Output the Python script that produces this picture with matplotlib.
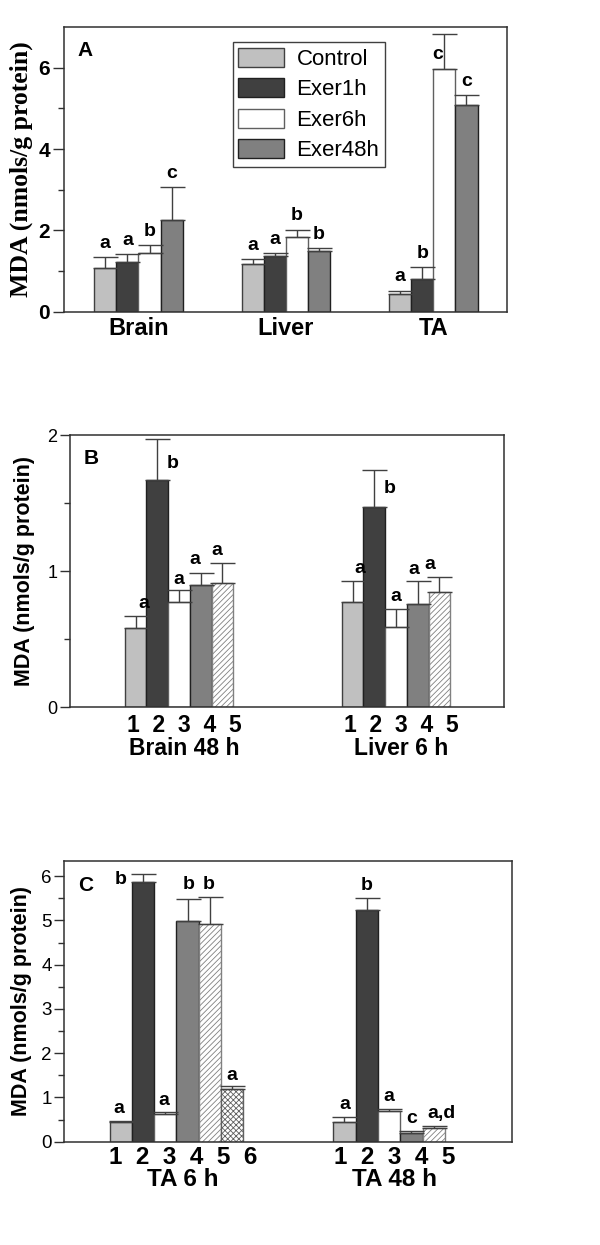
import matplotlib
matplotlib.use("Agg")
import matplotlib.pyplot as plt
import numpy as np
from matplotlib.ticker import MultipleLocator, FixedLocator

plt.rcParams['font.family'] = ['Liberation Sans', 'DejaVu Sans']
plt.rcParams['hatch.linewidth'] = 0.6

# ---------------- Data ----------------
# Panel A
a_groups = ["Brain", "Liver", "TA"]
a_series = ["Control", "Exer1h", "Exer6h", "Exer48h"]
a_control = [1.07, 1.17, 0.44]
a_exer1h = [1.22, 1.36, 0.80]
a_exer6h = [1.44, 1.83, 5.96]
a_exer48h = [2.26, 1.50, 5.09]
a_err_control = [0.27, 0.12, 0.08]
a_err_exer1h = [0.19, 0.08, 0.29]
a_err_exer6h = [0.19, 0.18, 0.88]
a_err_exer48h = [0.80, 0.06, 0.23]
a_letters_control = ["a", "a", "a"]
a_letters_exer1h = ["a", "a", "b"]
a_letters_exer6h = ["b", "b", "c"]
a_letters_exer48h = ["c", "b", "c"]

# Panel B
b_groups = ["Brain 48 h", "Liver 6 h"]
b_brain = [0.58, 1.67, 0.77, 0.90, 0.91]
b_brain_err = [0.09, 0.30, 0.09, 0.09, 0.15]
b_brain_letters = ["a", "b", "a", "a", "a"]
b_liver = [0.77, 1.47, 0.59, 0.76, 0.85]
b_liver_err = [0.16, 0.27, 0.13, 0.17, 0.11]
b_liver_letters = ["a", "b", "a", "a", "a"]

# Panel C
c_groups = ["TA 6 h", "TA 48 h"]
c_ta6 = [0.44, 5.87, 0.62, 4.98, 4.93, 1.20]
c_ta6_err = [0.03, 0.18, 0.04, 0.51, 0.59, 0.05]
c_ta6_letters = ["a", "b", "a", "b", "b", "a"]
c_ta48 = [0.45, 5.23, 0.69, 0.20, 0.30]
c_ta48_err = [0.11, 0.28, 0.04, 0.03, 0.05]
c_ta48_letters = ["a", "b", "a", "c", "a,d"]

# ---------------- Styles ----------------
FILL = ["#c0c0c0", "#404040", "#ffffff", "#808080", "#ffffff", "#ffffff"]
HATCH = [None, None, None, None, "//////", "xxxxxx"]
EDGE = ["#404040", "#202020", "#606060", "#202020", "#808080", "#606060"]
ERRC = "#404040"

fig = plt.figure(figsize=(6.0, 12.45), dpi=100)

def style_box(ax):
    for s in ax.spines.values():
        s.set_linewidth(1.1)
        s.set_color("#303030")
    ax.tick_params(axis='x', length=0)
    ax.tick_params(axis='y', which='major', length=7, width=1, direction='out', color="#303030")
    ax.tick_params(axis='y', which='minor', length=4, width=1, direction='out', color="#303030")

def draw_bar(ax, x, v, e, k, w):
    ax.bar(x, v, width=w, color=FILL[k], edgecolor=EDGE[k], linewidth=1.0,
           hatch=HATCH[k], zorder=2)
    ax.errorbar(x, v, yerr=[[0], [e]], fmt='none', ecolor=ERRC, elinewidth=1.0,
                capsize=9, capthick=1.0, zorder=3)

def letter(ax, x, top, txt, dx, dy):
    ax.annotate(txt, (x, top), xytext=(dx, dy), textcoords='offset pixels',
                ha='center', va='center', fontsize=14, fontweight='bold', zorder=4)

def group_labels(n, name):
    return "  ".join(str(i + 1) for i in range(n)) + "\n" + name

# ---------------- Panel A ----------------
axA = fig.add_axes([0.1067, 0.7496, 0.7383, 0.2287])
wA = 0.15
a_vals = [a_control, a_exer1h, a_exer6h, a_exer48h]
a_errs = [a_err_control, a_err_exer1h, a_err_exer6h, a_err_exer48h]
a_lets = [a_letters_control, a_letters_exer1h, a_letters_exer6h, a_letters_exer48h]
a_off = {(2, 2): (-7, -21)}
handles = []
for k in range(4):
    for g in range(3):
        x = g + (k - 1.5) * wA
        draw_bar(axA, x, a_vals[k][g], a_errs[k][g], k, wA)
        dx, dy = a_off.get((g, k), (0, 14))
        letter(axA, x, a_vals[k][g] + a_errs[k][g], a_lets[k][g], dx, dy)
    handles.append(plt.Rectangle((0, 0), 1, 1, facecolor=FILL[k], edgecolor=EDGE[k], linewidth=1.0))
axA.set_xlim(-0.505, 2.5)
axA.set_ylim(0, 7)
axA.set_xticks(range(3))
axA.set_xticklabels(a_groups, fontsize=17, fontweight='bold')
axA.yaxis.set_major_locator(FixedLocator([0, 2, 4, 6]))
axA.yaxis.set_minor_locator(FixedLocator([1, 3, 5]))
for t in axA.get_yticklabels():
    t.set_fontweight('bold'); t.set_fontsize(15)
style_box(axA)
axA.tick_params(axis='y', which='major', length=8, pad=2)
axA.tick_params(axis='x', pad=4)
axA.set_ylabel("MDA (nmols/g protein)", family=['Liberation Serif', 'DejaVu Serif'],
               fontweight='bold', fontsize=18.5)
axA.yaxis.set_label_coords(-0.07, 0.5)
axA.text(0.047, 0.919, "A", transform=axA.transAxes, ha='center', va='center',
         fontsize=15, fontweight='bold')
leg = axA.legend(handles, a_series, loc='upper left', bbox_to_anchor=(0.381, 0.947),
                 borderaxespad=0, fontsize=16, handlelength=2.07, handleheight=0.95,
                 handletextpad=0.55, labelspacing=0.37, borderpad=0.25,
                 fancybox=False, framealpha=1, edgecolor="#404040")
leg.get_frame().set_linewidth(1.0)

# ---------------- Panel B ----------------
axB = fig.add_axes([0.1167, 0.4319, 0.7238, 0.2187])
wB = 0.1
b_vals = [b_brain, b_liver]
b_errs = [b_brain_err, b_liver_err]
b_lets = [b_brain_letters, b_liver_letters]
b_offs = [[(8.5, 13), (15.5, -24), (0, 11), (-5.5, 12.7), (-6, 12.3)],
          [(7.7, 11.7), (15, -18.3), (0, 13), (-4, 11.3), (-10, 12)]]
for g in range(2):
    n = len(b_vals[g])
    for k in range(n):
        x = g + (k - (n - 1) / 2) * wB
        draw_bar(axB, x, b_vals[g][k], b_errs[g][k], k, wB)
        dx, dy = b_offs[g][k]
        letter(axB, x, b_vals[g][k] + b_errs[g][k], b_lets[g][k], dx, dy)
axB.set_xlim(-0.502, 1.499)
axB.set_ylim(0, 2)
axB.set_xticks([0.025, 1.025])
axB.set_xticklabels([group_labels(len(b_vals[g]), b_groups[g]) for g in range(2)],
                    fontsize=16.5, fontweight='bold', linespacing=1.02)
axB.yaxis.set_major_locator(MultipleLocator(1))
axB.yaxis.set_minor_locator(MultipleLocator(0.5))
for t in axB.get_yticklabels():
    t.set_fontsize(13)
style_box(axB)
axB.tick_params(axis='y', pad=2)
axB.tick_params(axis='x', pad=4.5)
axB.set_ylabel("MDA (nmols/g protein)", fontweight='bold', fontsize=15.5)
axB.yaxis.set_label_coords(-0.08, 0.5)
axB.text(0.048, 0.914, "B", transform=axB.transAxes, ha='center', va='center',
         fontsize=15, fontweight='bold')

# ---------------- Panel C ----------------
axC = fig.add_axes([0.1067, 0.0830, 0.7462, 0.2257])
wC = 0.105
c_vals = [c_ta6, c_ta48]
c_errs = [c_ta6_err, c_ta48_err]
c_lets = [c_ta6_letters, c_ta48_letters]
c_offs = [[(-2, 12.7), (-22.3, -5.3), (-1.7, 12.3), (0.7, 14.7), (-1, 13.3), (0, 10.7)],
          [(0, 12), (0, 12.7), (0, 13.3), (0, 13.4), (8, 12.7)]]
for g in range(2):
    n = len(c_vals[g])
    for k in range(n):
        x = g + (k - (n - 1) / 2) * wC
        draw_bar(axC, x, c_vals[g][k], c_errs[g][k], k, wC)
        dx, dy = c_offs[g][k]
        letter(axC, x, c_vals[g][k] + c_errs[g][k], c_lets[g][k], dx, dy)
axC.set_xlim(-0.529, 1.577)
axC.set_ylim(0, 6.35)
axC.set_xticks([0.03, 1.025])
axC.set_xticklabels([group_labels(len(c_vals[g]), c_groups[g]) for g in range(2)],
                    fontsize=17.5, fontweight='bold', linespacing=0.98)
axC.yaxis.set_major_locator(MultipleLocator(1))
axC.yaxis.set_minor_locator(MultipleLocator(0.5))
for t in axC.get_yticklabels():
    t.set_fontsize(13.5)
style_box(axC)
axC.tick_params(axis='y', pad=2)
axC.tick_params(axis='x', pad=3)
axC.set_ylabel("MDA (nmols/g protein)", fontweight='bold', fontsize=15.5)
axC.yaxis.set_label_coords(-0.072, 0.5)
axC.text(0.049, 0.913, "C", transform=axC.transAxes, ha='center', va='center',
         fontsize=15, fontweight='bold')

fig.savefig("out.png", dpi=100)
